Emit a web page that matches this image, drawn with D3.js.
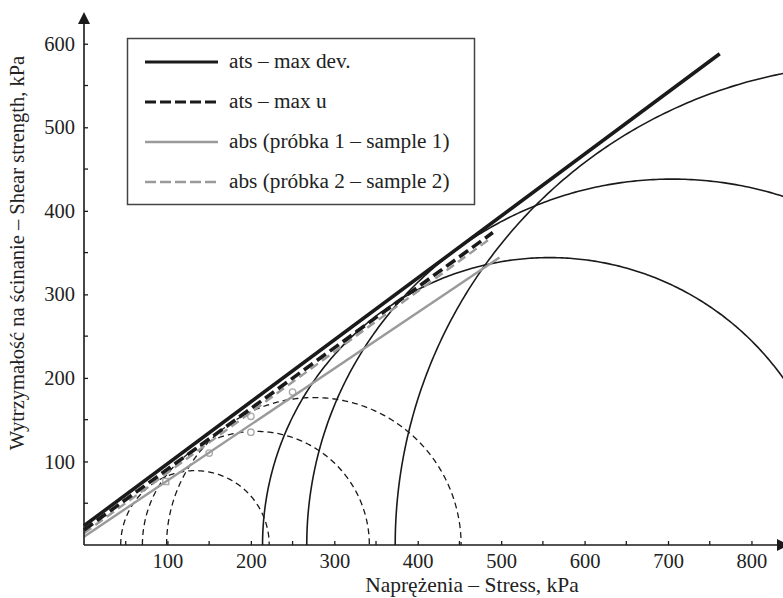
<!DOCTYPE html>
<html>
<head>
<meta charset="utf-8">
<script src="https://cdn.jsdelivr.net/npm/d3@7"></script>
<style>
  html, body { margin: 0; padding: 0; background: #fff; }
  svg { display: block; }
  svg text { font-family: "Liberation Serif", "DejaVu Serif", serif !important; fill: #222; }
</style>
</head>
<body>
<svg id="chart" width="783" height="598"></svg>
<script>
// Tick values (kPa)
const xTickValues = [100, 200, 300, 400, 500, 600, 700, 800];
const yTickValues = [100, 200, 300, 400, 500, 600];
const xMinorTicks = [50, 150, 250, 350, 450, 550, 650, 750];
const yMinorTicks = [50, 150, 250, 350, 450, 550];

// Mohr circles, given by minor and major principal stress (kPa)
const circlesSolid = [
  { s3: 214, s1: 902 },
  { s3: 267, s1: 1143 },
  { s3: 373, s1: 1523 }
];
const circlesDashed = [
  { s3: 44, s1: 222 },
  { s3: 70, s1: 342 },
  { s3: 99, s1: 452 }
];

// Strength envelopes: start and end points [normal stress, shear stress]
const envelopeNames = [
  "ats – max dev.",
  "ats – max u",
  "abs (próbka 1 – sample 1)",
  "abs (próbka 2 – sample 2)"
];
const envelopePoints = [
  [[0, 23], [762, 588]],
  [[0, 18], [490, 374]],
  [[0, 10], [498, 344]],
  [[0, 14], [486, 366]]
];
const envelopeStyles = [
  { color: "#1a1a1a", width: 3.6, dash: null },
  { color: "#1a1a1a", width: 3.6, dash: "11,5" },
  { color: "#9a9a9a", width: 2.4, dash: null },
  { color: "#9a9a9a", width: 2.4, dash: "9,5" }
];

// Direct shear test results (open circles) and one square point
const shearPointsCircle = [[150, 110], [200, 135], [200, 154], [250, 183]];
const shearPointsSquare = [[98, 76]];

const FONT = '"Liberation Serif", "DejaVu Serif", serif';
const svg = d3.select("#chart");

const x = d3.scaleLinear().domain([0, 845]).range([84, 789]);
const y = d3.scaleLinear().domain([0, 638]).range([545, 12]);

// Mohr semicircles
const line = d3.line().x(d => x(d[0])).y(d => y(d[1]));
function semicircle(c) {
  const cx = (c.s1 + c.s3) / 2, r = (c.s1 - c.s3) / 2;
  return d3.range(0, 361).map(i => {
    const a = Math.PI * i / 360;
    return [cx - r * Math.cos(a), r * Math.sin(a)];
  });
}

svg.append("g").selectAll("path").data(circlesDashed).join("path")
  .attr("d", d => line(semicircle(d)))
  .attr("fill", "none").attr("stroke", "#1a1a1a")
  .attr("stroke-width", 1.3).attr("stroke-dasharray", "6,4");

svg.append("g").selectAll("path").data(circlesSolid).join("path")
  .attr("d", d => line(semicircle(d)))
  .attr("fill", "none").attr("stroke", "#1a1a1a")
  .attr("stroke-width", 1.6);

// Test points
svg.append("g").selectAll("circle").data(shearPointsCircle).join("circle")
  .attr("cx", d => x(d[0])).attr("cy", d => y(d[1])).attr("r", 3.2)
  .attr("fill", "#fff").attr("stroke", "#aaa").attr("stroke-width", 1.4);
svg.append("g").selectAll("rect").data(shearPointsSquare).join("rect")
  .attr("x", d => x(d[0]) - 3).attr("y", d => y(d[1]) - 3)
  .attr("width", 6).attr("height", 6)
  .attr("fill", "#fff").attr("stroke", "#aaa").attr("stroke-width", 1.4);

// Envelopes (light ones first, dark ones on top)
const order = [2, 3, 1, 0];
svg.append("g").selectAll("path").data(order).join("path")
  .attr("d", i => line(envelopePoints[i]))
  .attr("fill", "none")
  .attr("stroke", i => envelopeStyles[i].color)
  .attr("stroke-width", i => envelopeStyles[i].width)
  .attr("stroke-dasharray", i => envelopeStyles[i].dash);

// Axes
const axisColor = "#1a1a1a";
const xAxis = d3.axisBottom(x).tickValues(xTickValues).tickSize(-4).tickPadding(10).tickFormat(d3.format("d"));
const gx = svg.append("g").attr("transform", `translate(0,${y(0)})`).call(xAxis)
  .attr("font-family", FONT).attr("font-size", 20);
gx.select(".domain").remove();
gx.selectAll(".tick line").attr("stroke", axisColor).attr("stroke-width", 1.3);
gx.selectAll(".tick text").style("font-family", FONT).style("font-size", "20.5px")
  .attr("fill", "#222").attr("dy", "0.62em");
gx.append("g").selectAll("line").data(xMinorTicks).join("line")
  .attr("x1", d => x(d)).attr("x2", d => x(d)).attr("y1", 0).attr("y2", -4)
  .attr("stroke", axisColor).attr("stroke-width", 1.3);

const yAxis = d3.axisLeft(y).tickValues(yTickValues).tickSize(-4).tickPadding(9).tickFormat(d3.format("d"));
const gy = svg.append("g").attr("transform", `translate(${x(0)},0)`).call(yAxis)
  .attr("font-family", FONT).attr("font-size", 20);
gy.select(".domain").remove();
gy.selectAll(".tick line").attr("stroke", axisColor).attr("stroke-width", 1.3);
gy.selectAll(".tick text").style("font-family", FONT).style("font-size", "20.5px").attr("fill", "#222");
gy.append("g").selectAll("line").data(yMinorTicks).join("line")
  .attr("y1", d => y(d)).attr("y2", d => y(d)).attr("x1", 0).attr("x2", 4)
  .attr("stroke", axisColor).attr("stroke-width", 1.3);

// Axis lines with arrowheads
svg.append("line").attr("x1", x(0)).attr("x2", x(845) - 10)
  .attr("y1", y(0)).attr("y2", y(0)).attr("stroke", axisColor).attr("stroke-width", 1.6);
svg.append("line").attr("x1", x(0)).attr("x2", x(0))
  .attr("y1", y(0)).attr("y2", y(638) + 10).attr("stroke", axisColor).attr("stroke-width", 1.6);
svg.append("path")
  .attr("d", `M${x(845)},${y(0)} L${x(845) - 12},${y(0) - 6} L${x(845) - 12},${y(0) + 6} Z`)
  .attr("fill", axisColor);
svg.append("path")
  .attr("d", `M${x(0)},${y(638)} L${x(0) - 6},${y(638) + 12} L${x(0) + 6},${y(638) + 12} Z`)
  .attr("fill", axisColor);

// Axis titles
svg.append("text").attr("x", 472).attr("y", 592).attr("text-anchor", "middle")
  .style("font-family", FONT).style("font-size", "21.5px").text("Naprężenia – Stress, kPa");
svg.append("text").attr("transform", "translate(24,253) rotate(-90)")
  .attr("text-anchor", "middle").style("font-family", FONT).style("font-size", "20.5px")
  .text("Wytrzymałość na ścinanie – Shear strength, kPa");

// Legend
const legend = svg.append("g");
legend.append("rect").attr("x", 127.5).attr("y", 38.5).attr("width", 347).attr("height", 166)
  .attr("fill", "#fff").attr("stroke", "#444").attr("stroke-width", 1.5);
const legendY = [62, 102, 142, 182];
const items = legend.selectAll("g.item").data(envelopeNames).join("g").attr("class", "item")
  .attr("transform", (d, i) => `translate(0,${legendY[i]})`);
items.append("line").attr("x1", 145).attr("x2", 218).attr("y1", 0).attr("y2", 0)
  .attr("stroke", (d, i) => envelopeStyles[i].color)
  .attr("stroke-width", (d, i) => i < 2 ? 3 : 2.4)
  .attr("stroke-dasharray", (d, i) => envelopeStyles[i].dash ? "11,4" : null);
items.append("text").attr("x", 229).attr("y", 6)
  .style("font-family", FONT).style("font-size", "21.3px").text(d => d);
</script>
</body>
</html>
